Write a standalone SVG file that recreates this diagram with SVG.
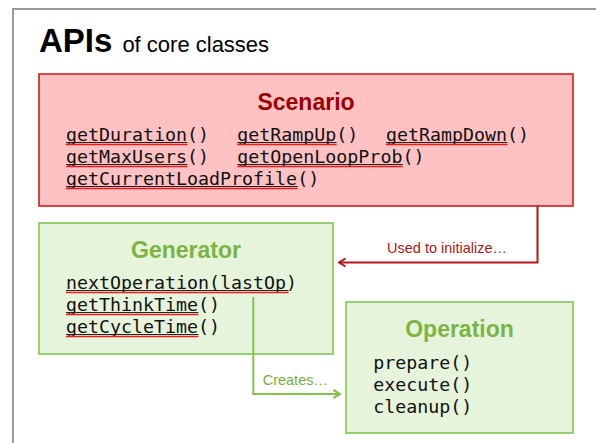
<svg xmlns="http://www.w3.org/2000/svg" width="596" height="443" viewBox="0 0 596 443">
  <style>
    .sans { font-family: "Liberation Sans", Arial, sans-serif; }
    .title { font-family: "Liberation Sans", Arial, sans-serif; font-weight: bold; font-size: 23px; text-anchor: middle; }
    .code { font-family: "DejaVu Sans Mono", "Liberation Mono", monospace; font-size: 18.3px; fill: #111; }
    .ul { stroke: #222; stroke-width: 1; }
    .rl { stroke: #f01818; stroke-width: 1.6; }
    .lbl { font-family: "Liberation Sans", Arial, sans-serif; font-size: 14.5px; }
  </style>
  <defs>
    <marker id="arrRed" viewBox="0 0 10 10" refX="8.5" refY="5" markerWidth="10" markerHeight="10" markerUnits="userSpaceOnUse" orient="auto">
      <path d="M2,1 L8.5,5 L2,9" fill="none" stroke="#b3161c" stroke-width="2"/>
    </marker>
    <marker id="arrGreen" viewBox="0 0 10 10" refX="8.5" refY="5" markerWidth="10" markerHeight="10" markerUnits="userSpaceOnUse" orient="auto">
      <path d="M2,1 L8.5,5 L2,9" fill="none" stroke="#84c24e" stroke-width="2.2"/>
    </marker>
  </defs>
  <rect width="596" height="443" fill="#ffffff"/>
  <rect x="13" y="9" width="620" height="470" fill="none" stroke="#9a9a9a" stroke-width="2"/>
  <text x="39" y="52" class="sans" fill="#000"><tspan font-size="33" font-weight="bold">APIs</tspan><tspan font-size="22" dx="10">of core classes</tspan></text>

  <g id="scenario">
    <rect x="39" y="74" width="534" height="132" fill="#ffc2c2" stroke="#cc1111" stroke-width="1.5"/>
    <text x="306" y="110" class="title" fill="#990000">Scenario</text>
    <text x="66" y="141" class="code">getDuration()</text>
    <text x="237.3" y="141" class="code">getRampUp()</text>
    <text x="386" y="141" class="code">getRampDown()</text>
    <text x="66" y="163" class="code">getMaxUsers()</text>
    <text x="237.3" y="163" class="code">getOpenLoopProb()</text>
    <text x="66" y="185" class="code">getCurrentLoadProfile()</text>
    <path class="ul" d="M66,142.5H187.4M237.3,142.5H336.6M386,142.5H507.4M66,164.5H187.4M237.3,164.5H402.8M66,186.5H297.7"/>
    <path class="rl" d="M66,144.5H187.4M237.3,144.5H336.6M386,144.5H507.4M66,166.5H187.4M237.3,166.5H402.8M66,188.5H297.7"/>
  </g>

  <g id="generator">
    <rect x="39" y="223" width="294" height="131" fill="#e6f4db" stroke="#8fcb62" stroke-width="1.8"/>
    <text x="186" y="258" class="title" fill="#7cb444">Generator</text>
    <text x="66" y="289" class="code">nextOperation(lastOp)</text>
    <text x="66" y="311" class="code">getThinkTime()</text>
    <text x="66" y="333" class="code">getCycleTime()</text>
    <path class="ul" d="M66,290.5H288.5M66,312.5H198.4M66,334.5H198.4"/>
    <path class="rl" d="M66,292.5H288.5M66,314.5H198.4M66,336.5H198.4"/>
  </g>

  <g id="operation">
    <rect x="346" y="302" width="227" height="131" fill="#e6f4db" stroke="#8fcb62" stroke-width="1.8"/>
    <text x="459.5" y="337" class="title" fill="#7cb444">Operation</text>
    <text x="373.3" y="369" class="code">prepare()</text>
    <text x="373.3" y="391" class="code">execute()</text>
    <text x="373.3" y="413" class="code">cleanup()</text>
  </g>

  <g id="connectors">
    <path d="M537.5,206 V262.5 H339" fill="none" stroke="#b3161c" stroke-width="2" marker-end="url(#arrRed)"/>
    <text x="387" y="253" class="lbl" fill="#a31a1a">Used to initialize…</text>
    <path d="M253.3,297 V394 H340" fill="none" stroke="#84c24e" stroke-width="2" marker-end="url(#arrGreen)"/>
    <text x="262.7" y="385" class="lbl" fill="#76b040">Creates…</text>
  </g>
</svg>
